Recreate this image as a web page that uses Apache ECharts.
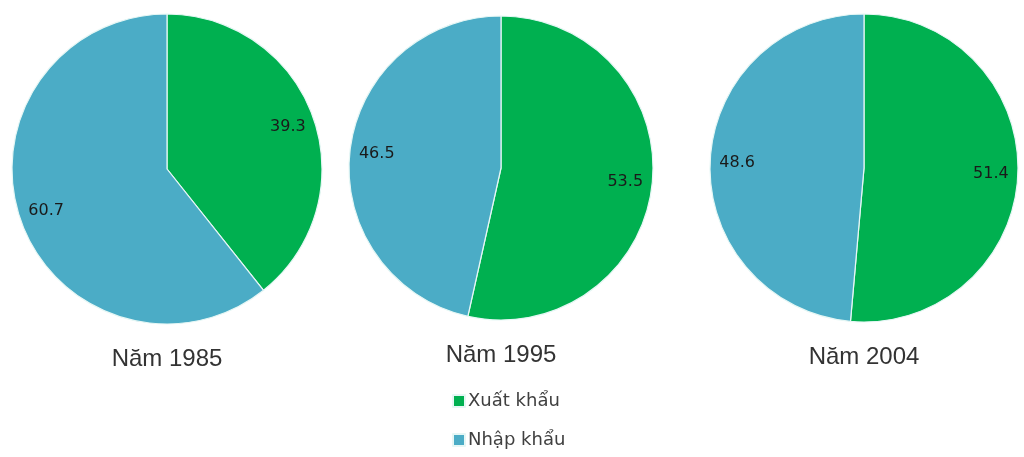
<!DOCTYPE html>
<html>
<head>
<meta charset="utf-8">
<script src="https://cdn.jsdelivr.net/npm/echarts@6/dist/echarts.min.js"></script>
<style>
html,body{margin:0;padding:0;background:#fff;}
#c{width:1024px;height:457px;}
</style>
</head>
<body>
<div id="c"></div>
<script>
const categories = ['Xuất khẩu', 'Nhập khẩu'];
const years = ['Năm 1985', 'Năm 1995', 'Năm 2004'];
const values1985 = [39.3, 60.7];
const values1995 = [53.5, 46.5];
const values2004 = [51.4, 48.6];
const colors = ['#00B050', '#4BACC6'];

const allValues = [values1985, values1995, values2004];
const centers = [[167, 169], [501, 168], [864, 168]];
const radii = [155, 152, 154];
const titleTops = [347, 343, 345];

const series = [];
allValues.forEach((vals, i) => {
  const data = categories.map((c, j) => ({ name: c, value: vals[j] }));
  series.push({
    type: 'pie',
    center: centers[i],
    radius: [0, radii[i]],
    startAngle: 90,
    clockwise: true,
    animation: false,
    silent: true,
    data: data,
    itemStyle: { borderColor: '#e6f7f5', borderWidth: 1.2 },
    label: { show: false },
    labelLine: { show: false }
  });
  series.push({
    type: 'pie',
    center: centers[i],
    radius: [radii[i] - 60, radii[i]],
    startAngle: 90,
    clockwise: true,
    animation: false,
    silent: true,
    data: data,
    itemStyle: { color: 'rgba(0,0,0,0)', borderWidth: 0 },
    label: {
      show: true,
      position: 'inside',
      formatter: '{c}',
      color: '#1a1a1a',
      fontFamily: 'DejaVu Sans',
      fontSize: 16
    },
    labelLine: { show: false }
  });
});

const option = {
  color: colors,
  backgroundColor: '#ffffff',
  animation: false,
  title: years.map((y, i) => ({
    text: y,
    left: centers[i][0],
    top: titleTops[i],
    textAlign: 'center',
    padding: 0,
    textStyle: {
      fontFamily: 'Liberation Sans',
      fontSize: 24,
      fontWeight: 'normal',
      color: '#333333'
    }
  })),
  legend: {
    orient: 'vertical',
    left: 452,
    top: 392,
    padding: 0,
    icon: 'rect',
    itemWidth: 12,
    itemHeight: 12,
    itemGap: 21,
    data: categories,
    textStyle: {
      fontFamily: 'DejaVu Sans',
      fontSize: 18,
      color: '#404040',
      padding: [0, 0, 0, -2]
    }
  },
  series: series
};

const chart = echarts.init(document.getElementById('c'), null, { renderer: 'canvas' });
chart.setOption(option);
</script>
</body>
</html>
